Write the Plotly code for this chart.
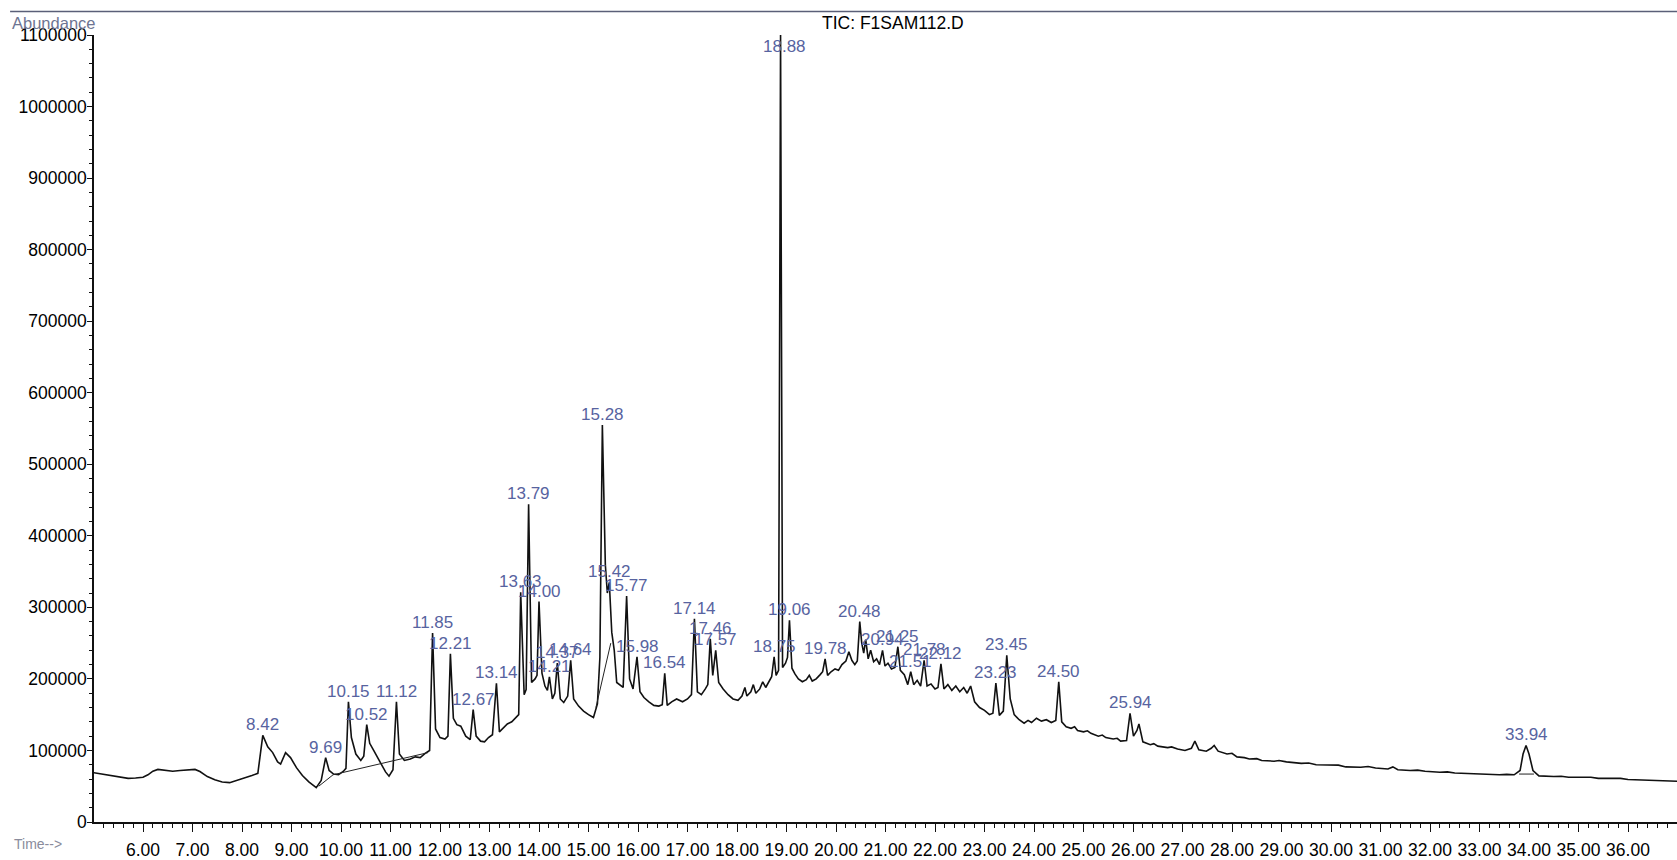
import plotly.graph_objects as go

# Total ion chromatogram, sample F1SAM112.D
# Signal between the labelled peaks: (retention time in min, abundance)
signal_pts = [
    (5.00, 69000), (5.10, 68000), (5.25, 66500), (5.40, 64000), (5.55, 62500),
    (5.70, 61000), (5.85, 61500), (6.00, 62500), (6.10, 66000), (6.20, 71000),
    (6.30, 73500), (6.45, 72000), (6.60, 71000), (6.75, 72000), (6.90, 72500),
    (7.05, 73500), (7.15, 70500), (7.30, 63500), (7.45, 59000), (7.60, 56000),
    (7.75, 55000), (7.90, 58000), (8.05, 62000), (8.20, 65000), (8.32, 68000),
    (8.52, 105000), (8.62, 97000), (8.72, 84000), (8.78, 81000), (8.88, 97000),
    (8.98, 90000), (9.10, 76000), (9.22, 65000), (9.35, 56000), (9.50, 48000),
    (9.60, 58000), (9.76, 72000), (9.85, 67000), (9.95, 66000), (10.05, 71000),
    (10.10, 75000), (10.21, 118000), (10.30, 95000), (10.40, 86000), (10.46, 92000),
    (10.58, 110000), (10.66, 100000), (10.78, 84000), (10.90, 70000), (10.97, 64000),
    (11.05, 73000), (11.18, 95000), (11.28, 86000), (11.40, 88000), (11.50, 91000),
    (11.60, 90000), (11.70, 96000), (11.79, 100000), (11.91, 130000), (12.00, 118000),
    (12.10, 116000), (12.16, 120000), (12.27, 145000), (12.34, 136000), (12.42, 134000),
    (12.52, 120000), (12.61, 115000), (12.73, 120000), (12.82, 113000), (12.90, 112000),
    (12.98, 118000), (13.06, 122000), (13.20, 126000), (13.28, 131000), (13.36, 137000),
    (13.45, 140000), (13.52, 145000), (13.59, 150000), (13.70, 178000), (13.74, 185000),
    (13.85, 195000), (13.92, 200000), (13.96, 205000), (14.06, 208000), (14.12, 190000),
    (14.17, 184000), (14.27, 172000), (14.32, 180000), (14.43, 172000), (14.50, 167000),
    (14.58, 176000), (14.70, 172000), (14.80, 162000), (14.90, 155000), (15.00, 150000),
    (15.10, 146000), (15.18, 165000), (15.23, 230000), (15.34, 360000), (15.38, 320000),
    (15.47, 265000), (15.52, 240000), (15.57, 195000), (15.63, 192000), (15.70, 188000),
    (15.83, 200000), (15.90, 186000), (16.04, 182000), (16.12, 174000), (16.22, 168000),
    (16.32, 163000), (16.42, 162000), (16.49, 164000), (16.59, 163000), (16.68, 168000),
    (16.78, 172000), (16.90, 168000), (17.00, 172000), (17.08, 178000), (17.20, 182000),
    (17.28, 178000), (17.36, 186000), (17.41, 192000), (17.51, 205000), (17.63, 195000),
    (17.72, 186000), (17.82, 178000), (17.92, 172000), (18.02, 170000), (18.10, 176000),
    (18.16, 188000), (18.20, 176000), (18.28, 182000), (18.33, 192000), (18.38, 180000),
    (18.46, 186000), (18.52, 196000), (18.58, 188000), (18.65, 196000), (18.70, 203000),
    (18.79, 205000), (18.84, 212000), (18.92, 216000), (18.98, 222000), (19.02, 230000),
    (19.11, 215000), (19.17, 207000), (19.24, 200000), (19.32, 196000), (19.40, 199000),
    (19.46, 205000), (19.52, 197000), (19.60, 200000), (19.68, 206000), (19.73, 210000),
    (19.83, 205000), (19.90, 210000), (19.98, 214000), (20.05, 212000), (20.12, 220000),
    (20.20, 225000), (20.26, 238000), (20.32, 226000), (20.38, 220000), (20.43, 225000),
    (20.52, 250000), (20.56, 236000), (20.60, 255000), (20.65, 228000), (20.70, 240000),
    (20.76, 224000), (20.82, 228000), (20.88, 220000), (20.99, 218000), (21.05, 222000),
    (21.12, 214000), (21.19, 216000), (21.30, 212000), (21.38, 206000), (21.45, 192000),
    (21.57, 192000), (21.64, 198000), (21.71, 190000), (21.84, 190000), (21.92, 193000),
    (22.00, 186000), (22.06, 188000), (22.18, 186000), (22.26, 192000), (22.34, 184000),
    (22.42, 190000), (22.50, 182000), (22.58, 188000), (22.65, 180000), (22.72, 190000),
    (22.80, 168000), (22.90, 160000), (23.00, 156000), (23.10, 150000), (23.17, 152000),
    (23.30, 149000), (23.38, 155000), (23.52, 172000), (23.60, 150000), (23.70, 143000),
    (23.80, 138000), (23.88, 142000), (23.95, 139000), (24.05, 145000), (24.15, 141000),
    (24.25, 143000), (24.35, 139000), (24.44, 142000), (24.56, 140000), (24.65, 133000),
    (24.75, 131000), (24.82, 133000), (24.88, 128000), (25.00, 126000), (25.08, 127500),
    (25.15, 124000), (25.30, 120000), (25.38, 121500), (25.45, 118000), (25.60, 116000),
    (25.68, 117000), (25.75, 113000), (25.87, 114000), (26.01, 120000),
    (26.08, 128000), (26.12, 137000), (26.20, 112000), (26.35, 108000), (26.42, 109500),
    (26.50, 106000), (26.70, 104000), (26.78, 105000), (26.90, 102000), (27.05, 100000),
    (27.18, 103000), (27.25, 113000), (27.33, 101000), (27.48, 99000), (27.58, 103000),
    (27.64, 107000), (27.72, 99000), (27.90, 95000), (28.00, 96000), (28.10, 91000),
    (28.25, 90000), (28.35, 88000), (28.50, 88500), (28.60, 86000), (28.85, 85000),
    (28.95, 86000), (29.10, 84000), (29.40, 82000), (29.55, 82500), (29.70, 80000),
    (30.00, 79000), (30.15, 79500), (30.30, 77000), (30.60, 76500), (30.75, 77500),
    (30.90, 75500), (31.15, 74000), (31.25, 77000), (31.35, 73000), (31.60, 72000),
    (31.75, 72500), (31.90, 71000), (32.20, 69500), (32.35, 70000), (32.50, 68500),
    (32.80, 67500), (32.95, 68000), (33.10, 67000), (33.40, 66000), (33.55, 66500),
    (33.70, 66000), (33.82, 72000), (33.88, 95000),
    (34.00, 95000), (34.08, 72000), (34.20, 64500), (34.50, 63500), (34.65, 64000),
    (34.80, 62500), (35.10, 62000), (35.25, 62500), (35.40, 61000), (35.70, 60500),
    (35.85, 61000), (36.00, 59500), (36.30, 58500), (36.45, 59000), (36.60, 57500),
    (36.80, 57500), (37.00, 57000),
]

# Integrated peaks: retention time (min) and apex abundance
peak_rt = [8.42, 9.69, 10.15, 10.52, 11.12, 11.85, 12.21, 12.67, 13.14, 13.63,
           13.79, 14.00, 14.21, 14.37, 14.64, 15.28, 15.42, 15.77, 15.98, 16.54,
           17.14, 17.46, 17.57, 18.75, 18.88, 19.06, 19.78, 20.48, 20.94, 21.25,
           21.51, 21.78, 22.12, 23.23, 23.45, 24.50, 25.94, 33.94]
peak_height = [121000, 90000, 168000, 136000, 168000, 264000, 235000, 157000, 194000, 321000,
               444000, 308000, 203000, 222000, 226000, 555000, 335000, 316000, 231000, 208000,
               284000, 256000, 240000, 231000, 1100000, 282000, 228000, 280000, 240000, 245000,
               210000, 226000, 221000, 194000, 233000, 196000, 152000, 107000]

# Integration baselines drawn under some peaks: (start rt, start abund, end rt, end abund)
baselines = [
    (9.55, 50000, 9.84, 66000),
    (9.84, 66000, 11.76, 97000),
    (15.15, 160000, 15.45, 250000),
    (33.80, 67000, 34.10, 67000),
]

x_ticks = list(range(6, 37))
y_max = 1100000

# merge background signal with the peak apexes
pts = sorted(signal_pts + list(zip(peak_rt, peak_height)))
rt = [p[0] for p in pts]
ab = [p[1] for p in pts]

bx, by = [], []
for t0, v0, t1, v1 in baselines:
    bx += [t0, t1, None]
    by += [v0, v1, None]

FONT = "Arial, Liberation Sans, sans-serif"
LABEL_COLOR = "#5763a0"
TICK_FONT = dict(family=FONT, size=17.5, color="#000000")

fig = go.Figure()
fig.add_trace(go.Scatter(x=rt, y=ab, mode="lines",
                         line=dict(color="#111111", width=1.6),
                         hoverinfo="skip", showlegend=False))
fig.add_trace(go.Scatter(x=bx, y=by, mode="lines",
                         line=dict(color="#222222", width=1),
                         hoverinfo="skip", showlegend=False))

annotations = []
for t, h in zip(peak_rt, peak_height):
    if h >= y_max:
        annotations.append(dict(x=t, y=y_max * 0.985, xref="x", yref="y",
                                text=f"{t:.2f}", showarrow=False, xshift=4,
                                yanchor="middle",
                                font=dict(family=FONT, size=17, color=LABEL_COLOR)))
    else:
        annotations.append(dict(x=t, y=h, xref="x", yref="y",
                                text=f"{t:.2f}", showarrow=False, yshift=-1,
                                yanchor="bottom",
                                font=dict(family=FONT, size=17, color=LABEL_COLOR)))

annotations += [
    dict(x=-0.053, y=1.015, xref="paper", yref="paper", text="Abundance",
         showarrow=False, xanchor="left", yanchor="middle",
         font=dict(family=FONT, size=16.5, color="#6d7492")),
    dict(x=0.505, y=1.015, xref="paper", yref="paper", text="TIC: F1SAM112.D",
         showarrow=False, xanchor="center", yanchor="middle",
         font=dict(family=FONT, size=17.5, color="#000000")),
    dict(x=-0.052, y=-0.028, xref="paper", yref="paper", text="Time-->",
         showarrow=False, xanchor="left", yanchor="middle",
         font=dict(family=FONT, size=14, color="#8a8c9c")),
]

fig.update_layout(
    width=1677, height=860,
    margin=dict(l=94, r=0, t=35, b=32),
    paper_bgcolor="white", plot_bgcolor="white",
    annotations=annotations,
    shapes=[dict(type="line", xref="paper", yref="paper",
                 x0=-0.053, x1=1.0, y0=1.030, y1=1.030,
                 line=dict(color="#5a5f78", width=1.5))],
    xaxis=dict(range=[5.01, 36.99], tickmode="array", tickvals=x_ticks,
               ticktext=[f"{v:.2f}" for v in x_ticks],
               ticks="outside", ticklen=8, tickwidth=1.3, tickcolor="#111",
               showline=True, linecolor="#111", linewidth=1.5,
               showgrid=False, zeroline=False, ticklabelstandoff=3,
               minor=dict(dtick=0.2, tick0=5.0, ticks="outside", ticklen=4,
                          tickwidth=1.2, tickcolor="#111", showgrid=False),
               tickfont=TICK_FONT),
    yaxis=dict(range=[0, y_max], tickmode="linear", tick0=0, dtick=100000,
               tickformat="d", ticks="outside", ticklen=5, tickwidth=1.3,
               tickcolor="#111", showline=True, linecolor="#111", linewidth=1.5,
               showgrid=False, zeroline=False, ticklabelstandoff=-3,
               minor=dict(dtick=20000, ticks="outside", ticklen=3,
                          tickwidth=1.2, tickcolor="#111", showgrid=False),
               tickfont=TICK_FONT),
)

fig.write_html("out.html")
